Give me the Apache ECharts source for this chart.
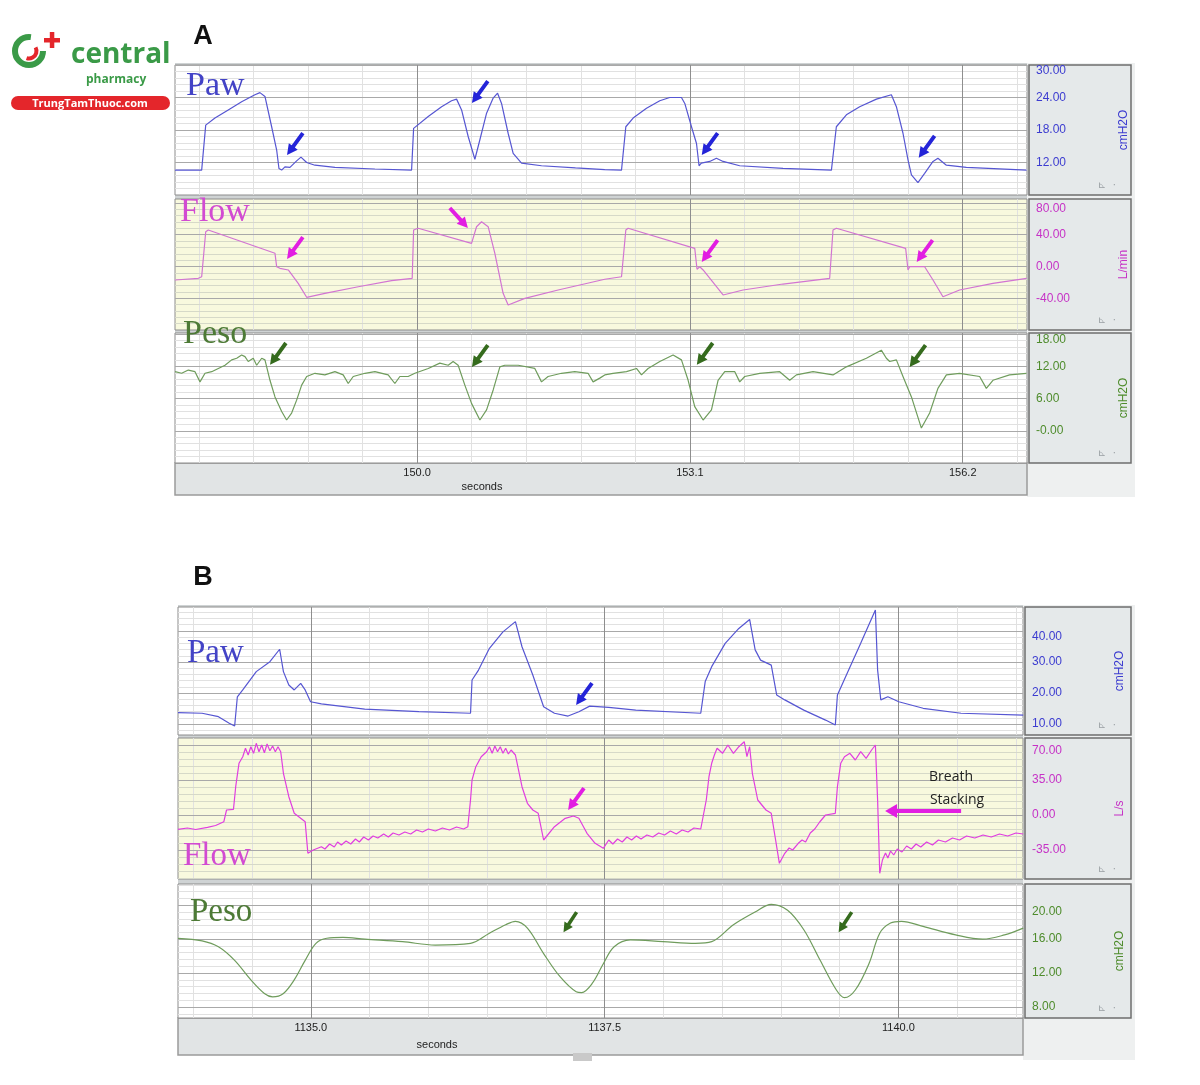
<!DOCTYPE html>
<html>
<head>
<meta charset="utf-8">
<script src="https://cdn.jsdelivr.net/npm/echarts@6/dist/echarts.min.js"></script>
<style>
  html, body { margin: 0; padding: 0; background: #fff; }
  #chart { width: 1200px; height: 1085px; }
</style>
</head>
<body>
<div id="chart"></div>
<script>
// ---- Panel A : [seconds, value] ----
const PAW_A = [[147.25,10.6],[147.553,10.6],[147.599,18.9],[147.704,20.2],[147.855,21.7],[148.007,23.2],[148.158,24.5],[148.215,24.9],[148.272,24.2],[148.348,18.6],[148.405,14.3],[148.431,10.9],[148.462,10.6],[148.499,11.2],[148.556,11.1],[148.632,12.3],[148.681,13.0],[148.746,12.0],[148.840,11.5],[149.067,11.1],[149.521,10.8],[149.938,10.6],
  [149.961,18.3],[150.127,20.5],[150.279,22.3],[150.392,23.4],[150.449,23.7],[150.506,21.7],[150.581,16.8],[150.657,12.6],[150.714,16.2],[150.790,21.1],[150.865,23.9],[150.915,24.8],[150.960,22.9],[151.035,17.4],[151.092,13.7],[151.187,11.9],[151.414,11.4],[151.80,11.0],[152.133,10.7],
  [152.323,10.6],[152.372,18.6],[152.455,20.2],[152.607,22.0],[152.758,23.4],[152.871,24.0],[153.004,24.0],[153.042,22.9],[153.118,18.6],[153.175,15.5],[153.204,11.4],[153.230,11.9],[153.325,12.2],[153.401,12.8],[153.477,12.2],[153.666,11.4],[154.158,10.9],[154.708,10.6],
  [154.764,18.6],[154.878,20.8],[155.029,22.3],[155.219,23.7],[155.389,24.5],[155.446,22.3],[155.521,17.4],[155.578,12.5],[155.617,9.7],[155.691,8.3],[155.767,10.0],[155.862,12.2],[155.918,12.8],[156.014,11.5],[156.241,11.1],[156.925,10.6]];

const FLOW_A = [[147.25,-17.0],[147.515,-14.9],[147.553,-12.9],[147.599,43.8],[147.628,46.0],[148.386,16.6],[148.405,-0.3],[148.442,-2.3],[148.537,-4.4],[148.650,-21.2],[148.746,-38.8],[148.953,-33.8],[149.332,-25.5],[149.711,-17.9],[149.945,-14.9],
  [149.961,46.0],[150.013,48.1],[150.619,29.2],[150.676,50.1],[150.733,56.4],[150.808,50.1],[150.884,16.6],[150.978,-33.8],[151.035,-48.5],[151.225,-40.1],[151.603,-29.6],[152.133,-16.1],[152.323,-12.9],
  [152.372,46.0],[152.398,48.1],[153.155,22.9],[153.181,-3.5],[153.212,-0.3],[153.250,-4.4],[153.477,-35.9],[153.704,-29.6],[154.158,-22.1],[154.688,-14.9],
  [154.726,46.0],[154.764,48.1],[155.551,22.9],[155.578,-4.4],[155.597,-0.3],[155.767,-0.3],[155.862,-17.0],[155.975,-38.1],[156.164,-29.6],[156.543,-21.2],[156.925,-14.9]];

const PESO_A = [[147.25,11.0],[147.326,10.7],[147.401,11.3],[147.477,11.0],[147.534,9.1],[147.591,10.7],[147.667,11.0],[147.742,11.6],[147.818,12.2],[147.894,13.2],[147.951,13.5],[148.007,14.1],[148.045,13.8],[148.082,12.9],[148.139,13.5],[148.178,12.2],[148.235,13.5],[148.272,13.2],[148.329,9.4],[148.386,6.3],[148.462,3.6],[148.518,2.0],[148.575,3.3],[148.632,5.7],[148.689,8.5],[148.746,10.1],[148.840,10.7],[148.953,10.4],[149.067,11.0],[149.161,10.4],[149.218,8.8],[149.275,10.1],[149.408,10.7],[149.521,11.0],[149.672,10.4],[149.748,8.8],[149.805,10.1],[149.899,10.1],[149.975,10.7],
  [150.127,11.6],[150.259,12.6],[150.354,12.2],[150.410,12.9],[150.467,12.2],[150.543,8.5],[150.619,5.1],[150.714,2.0],[150.790,3.9],[150.865,7.6],[150.941,11.9],[150.997,12.2],[151.149,12.2],[151.338,11.6],[151.414,9.1],[151.489,10.1],[151.641,10.7],[151.792,11.0],[151.943,10.7],[152.000,9.1],[152.076,9.8],[152.133,10.4],[152.227,10.7],[152.380,11.0],[152.493,11.6],[152.550,10.4],[152.625,11.6],[152.758,12.9],[152.909,14.1],[153.004,13.2],
  [153.080,9.4],[153.155,4.5],[153.250,2.0],[153.345,3.9],[153.420,9.4],[153.496,11.0],[153.610,11.0],[153.666,9.1],[153.723,10.1],[153.893,10.7],[154.120,11.0],[154.234,9.4],[154.310,10.4],[154.499,11.0],[154.726,10.4],[154.878,11.9],[155.105,13.5],[155.275,15.0],[155.332,13.5],[155.370,12.9],[155.446,13.2],[155.521,10.1],[155.617,6.3],[155.730,0.5],[155.824,3.3],[155.918,7.9],[156.014,10.4],[156.164,10.7],[156.392,10.1],[156.468,7.9],[156.543,9.4],[156.732,10.4],[156.925,10.7]];

// ---- Panel B : [seconds, value] ----
const PAW_B = [[1133.87,13.7],[1134.075,13.5],[1134.214,12.4],[1134.306,10.3],[1134.352,9.4],[1134.375,18.8],[1134.421,21.0],[1134.536,26.9],[1134.652,30.1],[1134.735,34.1],[1134.767,26.9],[1134.813,22.6],[1134.859,21.0],[1134.914,23.1],[1134.952,21.0],[1134.998,17.2],[1135.090,16.5],[1135.459,14.8],[1135.920,14.0],[1136.359,13.5],
  [1136.372,24.2],[1136.427,27.4],[1136.520,34.4],[1136.635,39.7],[1136.741,43.0],[1136.797,34.9],[1136.889,25.8],[1136.981,15.6],[1137.073,13.5],[1137.189,12.6],[1137.281,14.0],[1137.373,15.8],[1137.535,15.4],[1137.765,14.5],[1138.318,13.5],
  [1138.356,23.7],[1138.411,28.5],[1138.526,36.0],[1138.642,40.8],[1138.734,43.7],[1138.781,33.9],[1138.827,30.6],[1138.918,29.0],[1138.964,19.4],[1139.033,17.8],[1139.195,14.5],[1139.380,11.3],[1139.463,9.7],
  [1139.481,19.4],[1139.564,26.4],[1139.679,36.0],[1139.804,46.7],[1139.823,27.4],[1139.850,17.8],[1139.910,18.8],[1140.003,17.2],[1140.210,15.1],[1140.533,13.5],[1141.062,12.9]];

const FLOW_B = [[1133.87,-14.3],[1133.95,-13.0],[1134.02,-14.5],[1134.121,-12.3],[1134.19,-10.5],[1134.260,-6.7],[1134.283,5.0],[1134.342,5.7],[1134.361,28.3],[1134.389,51.7],[1134.421,58.3],[1134.444,66.7],[1134.467,60.0],[1134.490,68.3],[1134.513,61.7],[1134.536,71.7],[1134.559,63.3],[1134.582,70.0],[1134.605,62.3],[1134.628,71.0],[1134.652,64.3],[1134.675,69.0],[1134.698,63.3],[1134.721,68.3],[1134.744,63.3],[1134.767,41.7],[1134.813,18.3],[1134.859,1.7],[1134.914,-3.3],[1134.952,-6.7],[1134.975,-38.3],[1135.021,-35.0],
  [1135.090,-31.7],[1135.12,-34],[1135.16,-29],[1135.20,-32],[1135.228,-27],[1135.26,-30],[1135.30,-26],[1135.34,-29],[1135.38,-24],[1135.413,-27],[1135.45,-22],[1135.49,-25],[1135.53,-21],[1135.57,-23],[1135.62,-19],[1135.66,-22],[1135.70,-18],[1135.75,-20],[1135.80,-17],[1135.85,-19],[1135.90,-15],[1135.95,-17],[1136.00,-14],[1136.06,-16],[1136.12,-13],[1136.18,-15],[1136.24,-12],[1136.30,-14],[1136.336,-11.7],
  [1136.359,15.0],[1136.372,35.0],[1136.404,48.3],[1136.450,58.3],[1136.496,63.3],[1136.520,68.3],[1136.543,61.7],[1136.566,69.0],[1136.589,63.3],[1136.612,68.3],[1136.635,61.7],[1136.658,66.7],[1136.681,61.0],[1136.704,65.0],[1136.741,60.0],[1136.797,28.3],[1136.843,11.7],[1136.889,5.0],[1136.935,1.7],[1136.981,-25.0],[1137.073,-11.7],[1137.165,-3.3],[1137.235,-1.0],[1137.281,-3.3],[1137.350,-18.3],[1137.419,-28.3],[1137.489,-33.3],
  [1137.535,-25],[1137.57,-29],[1137.61,-24],[1137.65,-27],[1137.69,-22],[1137.73,-25],[1137.77,-21],[1137.81,-24],[1137.86,-20],[1137.91,-22],[1137.96,-18],[1138.01,-20],[1138.06,-16],[1138.11,-19],[1138.16,-15],[1138.21,-17],[1138.26,-13],[1138.318,-14],
  [1138.365,15.0],[1138.388,38.3],[1138.411,51.7],[1138.434,60.0],[1138.457,66.7],[1138.503,61.7],[1138.549,70.0],[1138.596,61.7],[1138.642,68.3],[1138.688,73.3],[1138.711,58.3],[1138.734,68.3],[1138.757,41.7],[1138.803,15.0],[1138.873,5.0],[1138.918,1.7],[1138.955,-25.0],[1138.987,-48.3],
  [1139.033,-38.3],[1139.07,-33],[1139.10,-35],[1139.148,-28.3],[1139.18,-25],[1139.21,-27],[1139.25,-18],[1139.288,-14],[1139.33,-7],[1139.380,0.0],[1139.463,1.7],
  [1139.481,28.3],[1139.509,51.7],[1139.541,58.3],[1139.587,61.7],[1139.633,55.0],[1139.679,63.3],[1139.725,56.7],[1139.772,65.0],[1139.804,70.0],[1139.823,15.0],[1139.841,-58.3],
  [1139.864,-45],[1139.89,-38],[1139.91,-43],[1139.933,-36],[1139.96,-40],[1139.99,-34],[1140.03,-37],[1140.07,-31],[1140.11,-34],[1140.15,-29],[1140.19,-32],[1140.24,-27],[1140.29,-30],[1140.34,-25],[1140.40,-27],[1140.46,-23],[1140.52,-25],[1140.58,-21],[1140.65,-23],[1140.72,-20],[1140.79,-22],[1140.86,-19],[1140.93,-21],[1141.00,-18],[1141.062,-19]];

const PESO_B = [[1133.87,16.1],[1134.075,15.8],[1134.214,15.1],[1134.352,13.5],[1134.490,11.2],[1134.605,9.6],[1134.675,9.2],[1134.767,9.6],[1134.859,11.2],[1134.952,13.5],[1135.044,15.5],[1135.136,16.1],[1135.274,16.2],[1135.459,16.0],[1135.781,15.7],[1136.059,15.3],[1136.359,15.5],[1136.520,16.7],[1136.658,17.7],[1136.741,18.1],[1136.843,17.3],[1136.981,14.3],[1137.119,11.6],[1137.258,9.8],[1137.304,9.7],[1137.396,10.8],[1137.489,13.1],[1137.581,15.1],[1137.719,15.9],[1137.996,15.7],[1138.273,15.5],[1138.411,15.7],[1138.596,17.7],[1138.780,19.2],[1138.918,20.1],[1139.057,19.4],[1139.195,17.1],[1139.334,13.5],[1139.472,10.0],[1139.541,9.1],[1139.633,10.0],[1139.749,13.1],[1139.841,16.7],[1139.933,17.9],[1140.025,18.1],[1140.210,17.5],[1140.487,16.5],[1140.717,16.0],[1140.903,16.5],[1141.062,17.3]];

// ---- tick labels ----
const SEC_A_TICKS = [150.0, 153.1, 156.2];
const SEC_B_TICKS = [1135.0, 1137.5, 1140.0];
const PAW_A_TICKS = [12, 18, 24, 30];
const PAW_A_TEXT = ['12.00', '18.00', '24.00', '30.00'];
const FLOW_A_TICKS = [-40, 0, 40, 80];
const FLOW_A_TEXT = ['-40.00', '0.00', '40.00', '80.00'];
const PESO_A_TICKS = [0, 6, 12, 18];
const PESO_A_TEXT = ['-0.00', '6.00', '12.00', '18.00'];
const PAW_B_TICKS = [10, 20, 30, 40];
const PAW_B_TEXT = ['10.00', '20.00', '30.00', '40.00'];
const FLOW_B_TICKS = [-35, 0, 35, 70];
const FLOW_B_TEXT = ['-35.00', '0.00', '35.00', '70.00'];
const PESO_B_TICKS = [8, 12, 16, 20];
const PESO_B_TEXT = ['8.00', '12.00', '16.00', '20.00'];

// ---- arrow annotations (data coords + direction) ----
const PAW_A_ARROWS = [{ at: [148.613, 15.4], rot: 144 }, { at: [150.714, 25.0], rot: 144 }, { at: [153.325, 15.4], rot: 144 }, { at: [155.790, 14.9], rot: 144 }];
const FLOW_A_ARROWS = [{ at: [148.613, 23.3], rot: 144 }, { at: [150.475, 61.1], rot: -138 }, { at: [153.325, 19.5], rot: 144 }, { at: [155.767, 19.5], rot: 144 }];
const PESO_A_ARROWS = [{ at: [148.420, 14.3], rot: 144 }, { at: [150.714, 13.9], rot: 144 }, { at: [153.269, 14.3], rot: 144 }, { at: [155.687, 13.9], rot: 144 }];
const PAW_B_ARROWS = [{ at: [1137.325, 19.7], rot: 144 }];
const FLOW_B_ARROWS = [{ at: [1137.257, 16], rot: 144 }, { at: [1140.21, 4], rot: 90, long: true }];
const PESO_B_ARROWS = [{ at: [1137.206, 18.0], rot: 147, size: [10, 24] }, { at: [1139.547, 18.0], rot: 147, size: [10, 24] }];

// ---- colours ----
const C_PAW = '#5656d2', C_FLOW_A = '#d274d2', C_FLOW_B = '#e03ee0', C_PESO = '#6f9c5c';
const A_PAW = '#2424d8', A_FLOW = '#e21ee2', A_PESO = '#356b1d';
const T_PAW = '#3c3cd0', T_FLOW = '#c632c6', T_PESO = '#4e8c2c';

const ARROW = 'path://M7,0L14,11L9.5,11L9.5,28L4.5,28L4.5,11L0,11Z';
const LONG_ARROW = 'path://M7,0L14,12L9,12L9,76L5,76L5,12L0,12Z';

const MINOR = { color: '#e1e1e1', width: 1, type: 'solid' };
const MINOR_Y = { color: '#d6d9c8', width: 1, type: 'solid' };
const MAJOR_H = { color: '#a9a9a9', width: 1, type: 'solid' };
const MAJOR_V = { color: '#8e8e8e', width: 1, type: 'solid' };

// 在 [lo, hi] 内按步长生成网格线位置
function steps(origin, step, lo, hi) {
  const out = [];
  let k = Math.ceil((lo - origin) / step + 1e-6);
  for (; origin + k * step < hi - 1e-6; k++) out.push(+(origin + k * step).toFixed(4));
  return out;
}
const near = (v, arr) => arr.some(a => Math.abs(a - v) < 1e-6);

// 网格线：次要线在前，主要线在后
function gridLines(x, y, minorY) {
  const d = [];
  steps(x.origin, x.minor, x.min, x.max).forEach(v => { if (!near(v, x.major)) d.push({ xAxis: v, lineStyle: MINOR }); });
  steps(y.origin, y.minor, y.min, y.max).forEach(v => { if (!near(v, y.major)) d.push({ yAxis: v, lineStyle: minorY || MINOR }); });
  y.major.forEach(v => d.push({ yAxis: v, lineStyle: MAJOR_H }));
  x.major.forEach(v => { if (v > x.min && v < x.max) d.push({ xAxis: v, lineStyle: MAJOR_V }); });
  return { silent: true, animation: false, z: 1, symbol: ['none', 'none'], label: { show: false }, data: d };
}

function arrowMarks(list, color) {
  return {
    silent: true, animation: false, itemStyle: { color }, label: { show: false },
    data: list.map(a => ({
      coord: a.at, symbolRotate: a.rot,
      symbol: a.long ? LONG_ARROW : ARROW,
      symbolSize: a.long ? [14, 76] : (a.size || [11, 27])
    }))
  };
}

const XA = { min: 147.25, max: 156.93, origin: 150.0, minor: 0.62, major: [146.9, 150.0, 153.1, 156.2] };
const XB = { min: 1133.87, max: 1141.06, origin: 1135.0, minor: 0.5, major: [1135.0, 1137.5, 1140.0] };

const panels = [
  { grid: [175, 65, 852, 130], x: XA, y: { min: 6, max: 30, origin: 12, minor: 1.2, major: PAW_A_TICKS }, ticks: PAW_A_TICKS, text: PAW_A_TEXT, unit: 'cmH2O', tcol: T_PAW, data: PAW_A, color: C_PAW, arrows: PAW_A_ARROWS, acol: A_PAW, bg: '#ffffff' },
  { grid: [175, 199, 852, 131], x: XA, y: { min: -80, max: 85, origin: 0, minor: 8, major: FLOW_A_TICKS }, ticks: FLOW_A_TICKS, text: FLOW_A_TEXT, unit: 'L/min', tcol: T_FLOW, data: FLOW_A, color: C_FLOW_A, arrows: FLOW_A_ARROWS, acol: A_FLOW, bg: '#f8f9de', minorY: MINOR_Y },
  { grid: [175, 333, 852, 130], x: XA, y: { min: -6, max: 18.2, origin: 0, minor: 1.2, major: PESO_A_TICKS }, ticks: PESO_A_TICKS, text: PESO_A_TEXT, unit: 'cmH2O', tcol: T_PESO, data: PESO_A, color: C_PESO, arrows: PESO_A_ARROWS, acol: A_PESO, bg: '#ffffff', sec: SEC_A_TICKS },
  { grid: [178, 607, 845, 128], x: XB, y: { min: 6.5, max: 47.7, origin: 10, minor: 2, major: PAW_B_TICKS }, ticks: PAW_B_TICKS, text: PAW_B_TEXT, unit: 'cmH2O', tcol: T_PAW, data: PAW_B, color: C_PAW, arrows: PAW_B_ARROWS, acol: A_PAW, bg: '#ffffff' },
  { grid: [178, 738, 845, 141], x: XB, y: { min: -64, max: 77, origin: 0, minor: 7, major: FLOW_B_TICKS }, ticks: FLOW_B_TICKS, text: FLOW_B_TEXT, unit: 'L/s', tcol: T_FLOW, data: FLOW_B, color: C_FLOW_B, arrows: FLOW_B_ARROWS, acol: A_FLOW, bg: '#f8f9de', minorY: MINOR_Y },
  { grid: [178, 884, 845, 134], x: XB, y: { min: 6.7, max: 22.5, origin: 8, minor: 0.8, major: PESO_B_TICKS }, ticks: PESO_B_TICKS, text: PESO_B_TEXT, unit: 'cmH2O', tcol: T_PESO, data: PESO_B, color: C_PESO, arrows: PESO_B_ARROWS, acol: A_PESO, bg: '#ffffff', sec: SEC_B_TICKS, smooth: true }
];

const FONT = 'Liberation Sans, Arial, sans-serif';
const SERIF = 'Liberation Serif, Times New Roman, serif';

const grid = panels.map(p => ({
  left: p.grid[0], top: p.grid[1], width: p.grid[2], height: p.grid[3],
  show: true, backgroundColor: p.bg, borderColor: '#8c8c8c', borderWidth: 1,
  containLabel: false, outerBoundsMode: 'none'
}));

const xAxis = panels.map((p, i) => ({
  type: 'value', gridIndex: i, min: p.x.min, max: p.x.max,
  axisLine: { show: false }, axisTick: { show: false }, splitLine: { show: false },
  axisLabel: p.sec ? {
    show: true, customValues: p.sec, formatter: v => v.toFixed(1),
    color: '#222', fontSize: 11, fontFamily: FONT, margin: 4
  } : { show: false }
}));

const yAxis = panels.map((p, i) => ({
  type: 'value', gridIndex: i, position: 'right', min: p.y.min, max: p.y.max,
  axisLine: { show: false }, axisTick: { show: false }, splitLine: { show: false },
  axisLabel: {
    customValues: p.ticks,
    formatter: v => { const k = p.ticks.findIndex(t => Math.abs(t - v) < 1e-6); return k < 0 ? '' : p.text[k]; },
    color: p.tcol, fontSize: 12, fontFamily: FONT, margin: 9, verticalAlignMaxLabel: 'top'
  },
  name: p.unit, nameLocation: 'middle', nameRotate: 90, nameGap: 91,
  nameTextStyle: { color: p.tcol, fontSize: 12, fontFamily: FONT }
}));

const series = panels.map((p, i) => ({
  type: 'line', xAxisIndex: i, yAxisIndex: i, data: p.data,
  showSymbol: false, symbol: 'none', smooth: p.smooth ? 0.35 : false,
  lineStyle: { color: p.color, width: 1.2 }, z: 3, silent: true,
  markLine: gridLines(p.x, p.y, p.minorY),
  markPoint: arrowMarks(p.arrows, p.acol)
}));

// ---- decoration: boxes, bars, labels, logo ----
const graphic = [];
function rect(x, y, w, h, fill, stroke, z, r) {
  graphic.push({ type: 'rect', z: z, silent: true, shape: { x, y, width: w, height: h, r: r || 0 }, style: { fill, stroke: stroke || null, lineWidth: stroke ? 1.5 : 0 } });
}
function text(x, y, s, font, fill, align, z) {
  graphic.push({ type: 'text', x, y, z: z || 10, silent: true, style: { text: s, font, fill, align: align || 'left', verticalAlign: 'middle' } });
}

// panel frames
rect(175, 63, 852, 400, '#cfd3d4', null, -2);
rect(1027, 63, 108, 434, '#eef0f0', null, -2);
rect(175, 463, 852, 32, '#e1e4e5', '#9a9a9a', -1);
rect(178, 605, 845, 413, '#cfd3d4', null, -2);
rect(1023, 605, 112, 455, '#eef0f0', null, -2);
rect(178, 1018, 845, 37, '#e1e4e5', '#9a9a9a', -1);
rect(573, 1053, 19, 8, '#c9c9c9', null, -1);
panels.forEach(p => {
  const bx = p.grid[0] + p.grid[2] + 2;
  rect(bx, p.grid[1], 1131 - bx, p.grid[3], '#e5e9ea', '#6e6e6e', -1);
  text(1098, p.grid[1] + p.grid[3] - 10, '\u22BE  \u00B7', '10px DejaVu Sans', '#9aa0a4', 'left', 0);
});

text(482, 487, 'seconds', '11px ' + FONT, '#222', 'center');
text(437, 1045, 'seconds', '11px ' + FONT, '#222', 'center');

// panel letters and trace names
text(203, 37, 'A', 'bold 27px ' + FONT, '#111', 'center');
text(203, 578, 'B', 'bold 27px ' + FONT, '#111', 'center');
text(186, 86, 'Paw', '34px ' + SERIF, '#4343c6');
text(180, 212, 'Flow', '34px ' + SERIF, '#d24bd2');
text(183, 334, 'Peso', '34px ' + SERIF, '#4d7a36');
text(187, 653, 'Paw', '33px ' + SERIF, '#4343c6');
text(183, 856, 'Flow', '33px ' + SERIF, '#d24bd2');
text(190, 912, 'Peso', '33px ' + SERIF, '#4d7a36');
text(951, 777, 'Breath', '14px Open Sans, ' + FONT, '#222', 'center');
text(957, 800, 'Stacking', '14px Open Sans, ' + FONT, '#222', 'center');

// logo
graphic.push({ type: 'arc', z: 10, silent: true, shape: { cx: 29, cy: 51, r: 14, startAngle: 0, endAngle: 4.85, clockwise: true }, style: { stroke: '#3a9a47', lineWidth: 6, fill: null } });
graphic.push({ type: 'arc', z: 10, silent: true, shape: { cx: 29, cy: 51, r: 7.5, startAngle: -0.5, endAngle: 1.9, clockwise: true }, style: { stroke: '#e4262b', lineWidth: 4, fill: null } });
rect(44, 38, 16, 4.5, '#e4262b', null, 10);
rect(49.8, 32, 4.5, 16, '#e4262b', null, 10);
text(71, 55, 'central', 'bold 28px Open Sans, ' + FONT, '#3a9a47');
text(86, 80, 'pharmacy', 'bold 12px Open Sans, ' + FONT, '#3a9a47');
rect(11, 96, 159, 14, '#e4262b', null, 10, 7);
text(90, 103.5, 'TrungTamThuoc.com', 'bold 11px Open Sans, ' + FONT, '#ffffff', 'center', 11);

const chart = echarts.init(document.getElementById('chart'), null, { renderer: 'canvas' });
chart.setOption({
  animation: false,
  backgroundColor: '#ffffff',
  textStyle: { fontFamily: FONT },
  grid, xAxis, yAxis, series, graphic
});
</script>
</body>
</html>
